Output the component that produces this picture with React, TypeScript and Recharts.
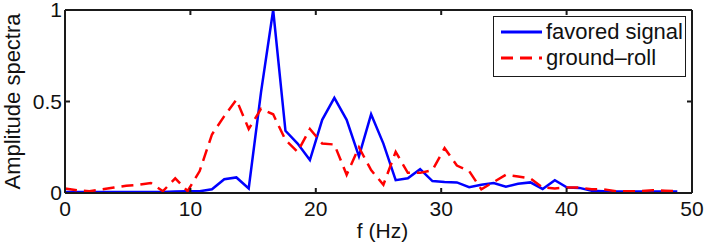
import { LineChart, Line, XAxis, YAxis, Legend } from "recharts"

// frequency bins (Hz)
const freqs = [
  0, 0.98, 1.95, 2.93, 3.91, 4.88, 5.86, 6.84, 7.81, 8.79, 9.77, 10.74, 11.72, 12.7, 13.67, 14.65, 15.63,
  16.6, 17.58, 18.55, 19.53, 20.51, 21.48, 22.46, 23.44, 24.41, 25.39, 26.37, 27.34, 28.32, 29.3, 30.27,
  31.25, 32.23, 33.2, 34.18, 35.16, 36.13, 37.11, 38.09, 39.06, 40.04, 41.02, 42.0, 42.97, 43.95, 44.92,
  45.9, 46.88, 47.85, 48.83,
]

const favoredSignal = [
  0.005, 0.005, 0.005, 0.005, 0.005, 0.005, 0.005, 0.006, 0.006, 0.008,
  0.01, 0.01, 0.02, 0.075, 0.085, 0.025, 0.55, 1.0, 0.34, 0.27,
  0.18, 0.4, 0.52, 0.4, 0.2, 0.43, 0.27, 0.07, 0.08, 0.13,
  0.065, 0.06, 0.058, 0.032, 0.045, 0.055, 0.035, 0.05, 0.058, 0.022,
  0.07, 0.03, 0.028, 0.012, 0.01, 0.008, 0.008, 0.008, 0.008, 0.008, 0.008,
]

const groundRoll = [
  0.025, 0.015, 0.01, 0.02, 0.03, 0.04, 0.045, 0.055, 0.01, 0.08,
  0.01, 0.12, 0.32, 0.42, 0.51, 0.35, 0.46, 0.43, 0.29, 0.225,
  0.35, 0.27, 0.265, 0.1, 0.25, 0.125, 0.045, 0.225, 0.11, 0.11,
  0.125, 0.245, 0.15, 0.12, 0.02, 0.06, 0.1, 0.09, 0.08, 0.03,
  0.025, 0.03, 0.03, 0.02, 0.02, 0.01, 0.01, 0.01, 0.015, 0.012, 0.01,
]

const xTicks = [0, 10, 20, 30, 40, 50]
const yTicks = [0, 0.5, 1]

const data = freqs.map((f, i) => ({ f, favored: favoredSignal[i], ground: groundRoll[i] }))

const W = 706
const H = 245
const M = { top: 10, right: 14, bottom: 0, left: 0 }
const X_AXIS_H = 52
const Y_AXIS_W = 65
// plot box edges, from the margins above
const PLOT_TOP = M.top
const PLOT_BOTTOM = H - M.bottom - X_AXIS_H
const PLOT_LEFT = M.left + Y_AXIS_W
const PLOT_RIGHT = W - M.right
const TICK = 5

const font = '"Liberation Sans", Arial, Helvetica, sans-serif'
const axisColor = "#1a1a1a"
const frame = { stroke: axisColor, strokeWidth: 2, fill: "none" }
const tickFont = { fontSize: 21, fill: "#111", fontFamily: font }

// MATLAB style: ticks point inwards, mirrored on the top / right edges
function XTick({ x, y, payload }: any) {
  return (
    <g>
      <path d={`M${x},${PLOT_BOTTOM}V${PLOT_BOTTOM - TICK}M${x},${PLOT_TOP}V${PLOT_TOP + TICK}`} {...frame} />
      {payload.value === xTicks[xTicks.length - 1] && <path d={`M${x},${PLOT_TOP}V${PLOT_BOTTOM}`} {...frame} />}
      <text x={x} y={y} dy="0.71em" textAnchor="middle" {...tickFont}>
        {payload.value}
      </text>
    </g>
  )
}

function YTick({ x, y, payload }: any) {
  return (
    <g>
      <path d={`M${PLOT_LEFT},${y}H${PLOT_LEFT + TICK}M${PLOT_RIGHT},${y}H${PLOT_RIGHT - TICK}`} {...frame} />
      {payload.value === yTicks[yTicks.length - 1] && <path d={`M${PLOT_LEFT},${y}H${PLOT_RIGHT}`} {...frame} />}
      <text x={x} y={y} dy="0.355em" textAnchor="end" {...tickFont}>
        {payload.value}
      </text>
    </g>
  )
}

function LegendBox() {
  const rows = [
    { label: "favored signal", color: "#0000ff", dash: undefined },
    { label: "ground\u2013roll", color: "#ff0000", dash: "12 7" },
  ]
  return (
    <div
      style={{
        width: 191,
        height: 59,
        border: `1.5px solid ${axisColor}`,
        background: "#fff",
        fontFamily: font,
        fontSize: 22,
        color: "#111",
        boxSizing: "content-box",
      }}
    >
      {rows.map((r, i) => (
        <div key={r.label} style={{ display: "flex", alignItems: "center", height: 26, marginTop: i === 0 ? 2 : 0 }}>
          <svg width={52} height={26}>
            <line x1={7} x2={48} y1={13} y2={13} stroke={r.color} strokeWidth={3} strokeDasharray={r.dash} />
          </svg>
          <span style={{ lineHeight: "26px" }}>{r.label}</span>
        </div>
      ))}
    </div>
  )
}

export default function App() {
  return (
    <div style={{ position: "absolute", left: 0, top: 0, width: W, height: H, background: "#fff" }}>
      <LineChart width={W} height={H} data={data} margin={M}>
        <XAxis
          dataKey="f"
          type="number"
          domain={[0, 50]}
          ticks={xTicks}
          height={X_AXIS_H}
          axisLine={{ stroke: axisColor, strokeWidth: 2 }}
          tickLine={false}
          tickSize={0}
          tickMargin={8}
          tick={<XTick />}
          label={{ value: "f (Hz)", position: "insideBottom", offset: 7, dx: 4, style: tickFont }}
        />
        <YAxis
          type="number"
          domain={[0, 1]}
          ticks={yTicks}
          width={Y_AXIS_W}
          axisLine={{ stroke: axisColor, strokeWidth: 2 }}
          tickLine={false}
          tickSize={0}
          tickMargin={3}
          tick={<YTick />}
          label={{
            value: "Amplitude spectra",
            angle: -90,
            position: "insideLeft",
            offset: 12,
            style: { ...tickFont, fontSize: 22, textAnchor: "middle" },
          }}
        />
        <Line
          type="linear"
          dataKey="favored"
          name="favored signal"
          stroke="#0000ff"
          strokeWidth={2.5}
          dot={false}
          isAnimationActive={false}
        />
        <Line
          type="linear"
          dataKey="ground"
          name="ground-roll"
          stroke="#ff0000"
          strokeWidth={2.5}
          strokeDasharray="12 7"
          dot={false}
          isAnimationActive={false}
        />
        <Legend
          layout="vertical"
          align="center"
          verticalAlign="middle"
          wrapperStyle={{ top: 16, left: 493, width: "auto" }}
          content={() => <LegendBox />}
        />
      </LineChart>
    </div>
  )
}
